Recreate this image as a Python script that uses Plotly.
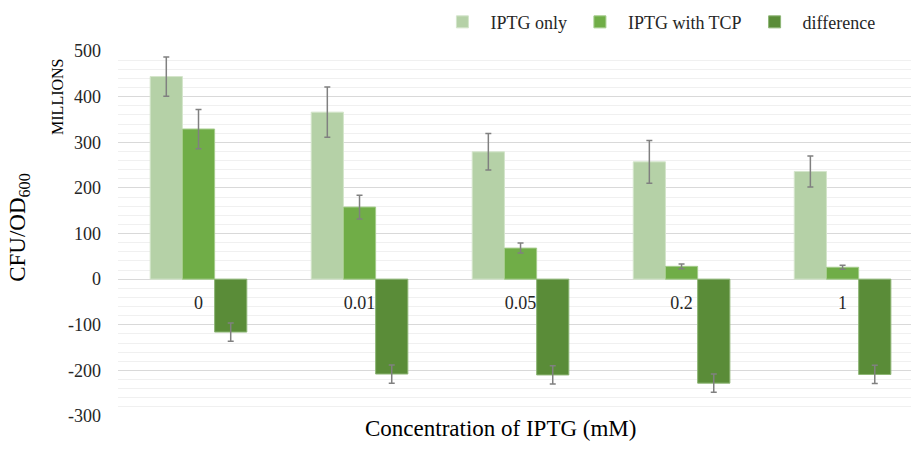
import plotly.graph_objects as go

categories = ["0", "0.01", "0.05", "0.2", "1"]
iptg_only = [444, 366, 279, 257, 236]
iptg_only_err = [43, 55, 40, 47, 34]
iptg_tcp = [329, 158, 68, 28, 26]
iptg_tcp_err = [43, 26, 11, 5, 4.5]
difference = [-116, -208, -210, -228, -209]
difference_err = [20, 20, 20, 20, 20]

y_tick_values = [-300, -200, -100, 0, 100, 200, 300, 400, 500]
y_tick_labels = ["-300", "-200", "-100", "0", "100", "200", "300", "400", "500"]

series_names = ["IPTG only", "IPTG with TCP", "difference"]
colors = ["#B5D1A7", "#70AD47", "#5A8C38"]
edge_colors = ["#D4E5CB", "#A5CC8C", "#8DB575"]

FONT = "Liberation Serif"
TXT = "#262626"

fig = go.Figure()
for name, vals, errs, c, ec in zip(series_names,
                                   [iptg_only, iptg_tcp, difference],
                                   [iptg_only_err, iptg_tcp_err, difference_err],
                                   colors, edge_colors):
    fig.add_trace(go.Bar(
        x=categories, y=vals, name=name,
        marker=dict(color=c, line=dict(color=ec, width=1)),
        error_y=dict(type="data", array=errs, visible=True,
                     color="#808080", thickness=1.5, width=3),
    ))

fig.update_layout(
    width=911, height=450,
    margin=dict(l=118, r=0, t=51, b=34, autoexpand=False),
    paper_bgcolor="white", plot_bgcolor="white",
    barmode="group", bargap=0.4, bargroupgap=0,
    font=dict(family=FONT, size=18, color=TXT),
    showlegend=True,
    legend=dict(orientation="h", x=0.399, xanchor="left",
                y=1.079, yanchor="middle",
                font=dict(family=FONT, size=18, color=TXT),
                itemwidth=46, tracegroupgap=0),
    xaxis=dict(type="category", range=[-0.5, 4.425],
               anchor="free", position=0.375,
               showline=False, showgrid=False, ticks="",
               ticklabelstandoff=11,
               tickfont=dict(family=FONT, size=18, color=TXT)),
    yaxis=dict(range=[-300, 500], tickvals=y_tick_values, ticktext=y_tick_labels,
               showgrid=True, gridcolor="#D9D9D9", gridwidth=1,
               minor=dict(dtick=20, tick0=0, showgrid=True, gridcolor="#F0F0F0", gridwidth=1),
               zeroline=True, zerolinecolor="#D9D9D9", zerolinewidth=1,
               showline=False, ticks="", ticklabelstandoff=16,
               tickfont=dict(family=FONT, size=18, color=TXT)),
    annotations=[
        dict(text="CFU/OD<sub>600</sub>", xref="paper", yref="paper",
             x=-0.125, y=0.518, xanchor="center", yanchor="middle",
             textangle=-90, showarrow=False,
             font=dict(family=FONT, size=23, color="#000000")),
        dict(text="MILLIONS", xref="paper", yref="paper",
             x=-0.077, y=1.0, xanchor="center", yanchor="top",
             yshift=-6, textangle=-90, showarrow=False,
             font=dict(family=FONT, size=16, color="#000000")),
        dict(text="Concentration of IPTG (mM)", xref="paper", yref="paper",
             x=0.482, y=0, xanchor="center", yanchor="top", yshift=2,
             showarrow=False,
             font=dict(family=FONT, size=23, color="#000000")),
    ],
)

fig.write_html("out.html", config={"displayModeBar": False},
               post_script="document.body.style.margin='0';document.body.style.padding='0';")
